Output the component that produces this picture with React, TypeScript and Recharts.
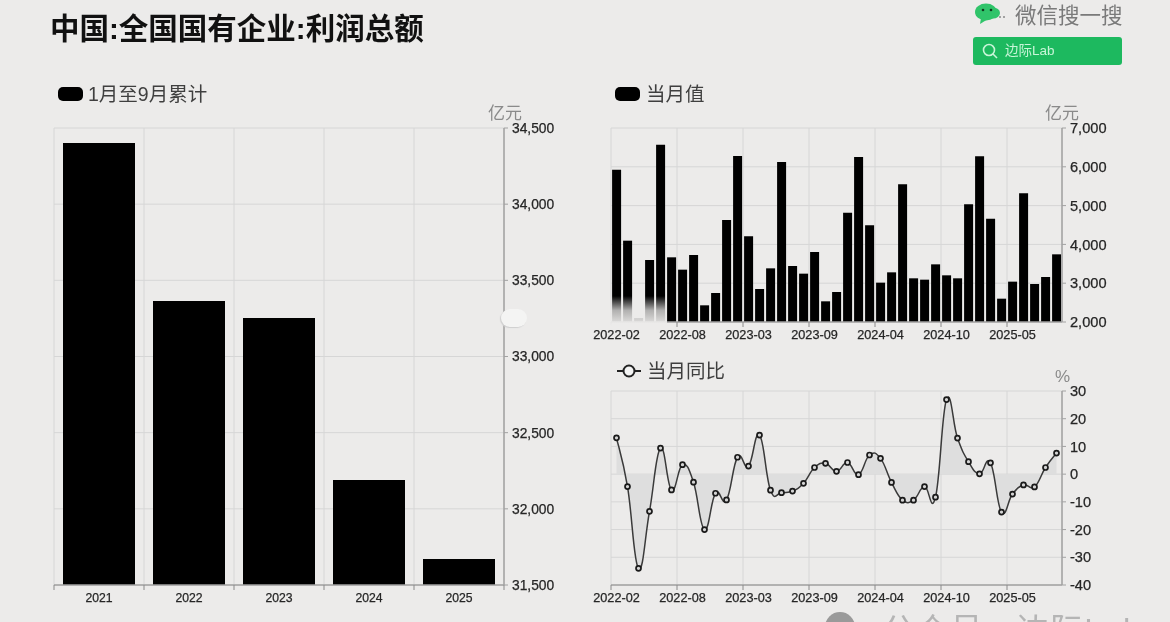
import React from 'react';
import { ComposedChart, Bar, Line, Area, XAxis, YAxis, CartesianGrid } from 'recharts';

const yearCategories = ['2021', '2022', '2023', '2024', '2025'];
const cumulativeValues = [34402, 33364, 33253, 32189, 31671];
const cumulativeTicks = [31500, 32000, 32500, 33000, 33500, 34000, 34500];

const monthCategories = [
  '2022-02', '2022-03', '2022-04', '2022-05', '2022-06', '2022-07', '2022-08', '2022-09', '2022-10', '2022-11', '2022-12',
  '2023-02', '2023-03', '2023-04', '2023-05', '2023-06', '2023-07', '2023-08', '2023-09', '2023-10', '2023-11', '2023-12',
  '2024-02', '2024-03', '2024-04', '2024-05', '2024-06', '2024-07', '2024-08', '2024-09', '2024-10', '2024-11', '2024-12',
  '2025-02', '2025-03', '2025-04', '2025-05', '2025-06', '2025-07', '2025-08', '2025-09',
];
const monthTickLabels = ['2022-02', '2022-08', '2023-03', '2023-09', '2024-04', '2024-10', '2025-05'];
const monthlyValues = [
  5926, 4096, 2100, 3598, 6570, 3667, 3349, 3727, 2430, 2747, 4629,
  6278, 4208, 2851, 3383, 6124, 3443, 3246, 3804, 2533, 2773, 4818,
  6253, 4491, 3014, 3280, 5548, 3126, 3091, 3486, 3203, 3126, 5033,
  6270, 4663, 2601, 3040, 5316, 2979, 3160, 3744,
];
const monthlyTicks = [2000, 3000, 4000, 5000, 6000, 7000];
const yoyValues = [
  13.1, -4.5, -34, -13.4, 9.4, -5.7, 3.4, -2.9, -20, -6.9, -9.3,
  6.1, 2.9, 14.1, -5.8, -6.7, -6.1, -3.3, 2.4, 3.9, 1.0, 4.2,
  -0.2, 6.9, 5.7, -3, -9.4, -9.4, -4.5, -8.3, 26.9, 13, 4.5,
  0.1, 4.1, -13.7, -7.2, -3.9, -4.6, 2.4, 7.6,
];
const yoyTicks = [-40, -30, -20, -10, 0, 10, 20, 30];

const cumulativeRows = yearCategories.map((c, i) => ({ c, v: cumulativeValues[i] }));
const monthlyRows = monthCategories.map((c, i) => ({ c, v: monthlyValues[i] }));
const yoyRows = monthCategories.map((c, i) => ({ c, v: yoyValues[i] }));

const FONT = '"Liberation Sans", "Noto Sans CJK SC", sans-serif';
const BG = '#ecebea';
const GRID = '#d6d6d6';
const AXIS = '#a2a2a2';
const TICK_TEXT = '#262626';
const TANGENT = 4.6;

const fmt = (v: number) => v.toLocaleString('en-US');

// Smooth curve through the points, drawn with the library's Curve through its factory hook.
function smoothCurve(context: any) {
  let pts: [number, number][] = [];
  let line = NaN;
  return {
    areaStart() { line = 0; },
    areaEnd() { line = NaN; },
    lineStart() { pts = []; },
    point(x: number, y: number) { pts.push([+x, +y]); },
    lineEnd() {
      pts.forEach((p, i) => {
        if (i === 0) {
          if (line) context.lineTo(p[0], p[1]);
          else context.moveTo(p[0], p[1]);
          return;
        }
        const p0 = pts[Math.max(i - 2, 0)];
        const p1 = pts[i - 1];
        const p3 = pts[Math.min(i + 1, pts.length - 1)];
        context.bezierCurveTo(
          p1[0] + (p[0] - p0[0]) / TANGENT, p1[1] + (p[1] - p0[1]) / TANGENT,
          p[0] - (p3[0] - p1[0]) / TANGENT, p[1] - (p3[1] - p1[1]) / TANGENT,
          p[0], p[1],
        );
      });
      if (line === 1) context.closePath();
      line = 1 - line;
    },
  };
}

// Labels sit mid-band, tick marks on the band edges.
const edgeTick = (bw: number, fontSize: number, lastIdx: number, count: number) => (p: any) => {
  const { x, y, payload } = p;
  const catIndex = payload.index ?? p.index;
  const endX = x + bw / 2 + (count - 1 - lastIdx) * bw;
  return (
    <g>
      <line x1={x - bw / 2} x2={x - bw / 2} y1={y - 8} y2={y - 3} stroke="#8a8a8a" />
      {catIndex === lastIdx && <line x1={endX} x2={endX} y1={y - 8} y2={y - 3} stroke="#8a8a8a" />}
      <text x={x} y={y + 9} textAnchor="middle" fontSize={fontSize} fill={TICK_TEXT} stroke={TICK_TEXT} strokeWidth={0.25} fontFamily={FONT}>
        {payload.value}
      </text>
    </g>
  );
};

const verticals = (count: number, idx: number[]) => ({ offset }: any) => [
  ...idx.map((i) => offset.left + (i * offset.width) / count),
  offset.left + offset.width,
];
const monthEdges = monthTickLabels.map((l) => monthCategories.indexOf(l));
const lastMonthTick = monthEdges[monthEdges.length - 1];

const abs = (left: number, top: number): React.CSSProperties => ({ position: 'absolute', left, top });

const LegendText = ({ left, top, text }: { left: number; top: number; text: string }) => (
  <div style={{ ...abs(left, top), fontSize: 19.5, lineHeight: '24px', color: '#3f3f3f', whiteSpace: 'nowrap' }}>{text}</div>
);
const Swatch = ({ left, top }: { left: number; top: number }) => (
  <div style={{ ...abs(left, top), width: 25, height: 14, borderRadius: 5, background: '#000' }} />
);
const Unit = ({ left, top, text }: { left: number; top: number; text: string }) => (
  <div style={{ ...abs(left, top), fontSize: 17, lineHeight: '20px', color: '#8a8a8a', whiteSpace: 'nowrap' }}>{text}</div>
);

export default function App() {
  return (
    <div
      style={{
        position: 'absolute', left: 0, top: 0, width: 1170, height: 622, overflow: 'hidden',
        background: BG, fontFamily: FONT, filter: 'blur(0.45px)',
      }}
    >
      <div style={{ ...abs(50, 11), fontSize: 29.5, lineHeight: '36px', fontWeight: 700, color: '#111', whiteSpace: 'nowrap' }}>
        中国:全国国有企业:利润总额
      </div>

      {/* brand block */}
      <svg style={abs(974, 2)} width={32} height={24}>
        <ellipse cx={12} cy={10} rx={11} ry={8.5} fill="#30c46a" />
        <ellipse cx={19} cy={11} rx={7} ry={5.5} fill="#30c46a" />
        <path d="M7 16 L6 22 L14 17 Z" fill="#30c46a" />
        <circle cx={9} cy={8} r={1.3} fill="#10381f" />
        <circle cx={17} cy={8} r={1.3} fill="#10381f" />
        <circle cx={26} cy={15} r={1} fill="#888" />
        <circle cx={30} cy={15} r={1} fill="#888" />
      </svg>
      <div style={{ ...abs(1015, 3), fontSize: 21.5, lineHeight: '26px', color: '#7a7a7a', whiteSpace: 'nowrap' }}>微信搜一搜</div>
      <div style={{ ...abs(973, 37), width: 149, height: 28, borderRadius: 3, background: '#1db95f' }} />
      <svg style={abs(981, 42)} width={18} height={18}>
        <circle cx={8} cy={8} r={5.5} fill="none" stroke="#c8f5d8" strokeWidth={1.6} />
        <line x1={12} y1={12} x2={16} y2={16} stroke="#c8f5d8" strokeWidth={1.6} />
      </svg>
      <div style={{ ...abs(1005, 42), fontSize: 13.5, lineHeight: '18px', color: '#c8f5d8', whiteSpace: 'nowrap' }}>边际Lab</div>

      {/* legends and units */}
      <Swatch left={58} top={87} />
      <LegendText left={88} top={82} text="1月至9月累计" />
      <Swatch left={615} top={87} />
      <LegendText left={646} top={82} text="当月值" />
      <svg style={abs(616, 362)} width={26} height={18}>
        <line x1={1} x2={25} y1={9} y2={9} stroke="#222" strokeWidth={2} />
        <circle cx={13} cy={9} r={5.5} fill="#f4f4f4" stroke="#222" strokeWidth={2} />
      </svg>
      <LegendText left={647} top={359} text="当月同比" />
      <Unit left={488} top={104} text="亿元" />
      <Unit left={1045} top={104} text="亿元" />
      <Unit left={1055} top={367} text="%" />

      {/* left: cumulative */}
      <div style={abs(0, 100)}>
        <ComposedChart width={570} height={522} data={cumulativeRows} margin={{ top: 28, right: 6, bottom: 7, left: 54 }} barCategoryGap="10%">
          <CartesianGrid stroke={GRID} verticalCoordinatesGenerator={verticals(5, [0, 1, 2, 3, 4])} />
          <XAxis
            dataKey="c" height={30} axisLine={{ stroke: AXIS, strokeWidth: 1.5 }} tickLine={false} interval={0}
            tick={edgeTick(90, 12.2, 4, 5)}
          />
          <YAxis
            orientation="right" width={60} domain={[31500, 34500]} ticks={cumulativeTicks} tickFormatter={fmt}
            axisLine={{ stroke: AXIS, strokeWidth: 1.5 }} tickLine={{ stroke: AXIS }} tickSize={4} tickMargin={4}
            tick={{ fontSize: 13.8, fill: TICK_TEXT, stroke: TICK_TEXT, strokeWidth: 0.25, fontFamily: FONT }} allowDataOverflow
          />
          <Bar dataKey="v" fill="#000" isAnimationActive={false} />
        </ComposedChart>
      </div>

      {/* top right: monthly */}
      <div style={abs(580, 110)}>
        <ComposedChart width={552} height={240} data={monthlyRows} margin={{ top: 18, right: 0, bottom: 0, left: 31 }} barCategoryGap="10%">
          <CartesianGrid stroke={GRID} verticalCoordinatesGenerator={verticals(41, monthEdges)} />
          <XAxis
            dataKey="c" height={28} axisLine={{ stroke: AXIS, strokeWidth: 1.5 }} tickLine={false} ticks={monthTickLabels} interval={0}
            tick={edgeTick(11, 12.7, lastMonthTick, 41)}
          />
          <YAxis
            orientation="right" width={70} domain={[2000, 7000]} ticks={monthlyTicks} tickFormatter={fmt}
            axisLine={{ stroke: AXIS, strokeWidth: 1.5 }} tickLine={{ stroke: AXIS }} tickSize={4} tickMargin={4}
            tick={{ fontSize: 14.6, fill: TICK_TEXT, stroke: TICK_TEXT, strokeWidth: 0.25, fontFamily: FONT }}
          />
          <Bar dataKey="v" fill="#000" isAnimationActive={false} />
        </ComposedChart>
      </div>

      {/* bottom right: year on year */}
      <div style={abs(580, 370)}>
        <ComposedChart width={552} height={243} data={yoyRows} margin={{ top: 21, right: 0, bottom: 0, left: 31 }}>
          <CartesianGrid stroke={GRID} verticalCoordinatesGenerator={verticals(41, monthEdges)} />
          <XAxis
            dataKey="c" scale="band" height={28} axisLine={{ stroke: AXIS, strokeWidth: 1.5 }} tickLine={false} ticks={monthTickLabels} interval={0}
            tick={edgeTick(11, 12.7, lastMonthTick, 41)}
          />
          <YAxis
            orientation="right" width={70} domain={[-40, 30]} ticks={yoyTicks}
            axisLine={{ stroke: AXIS, strokeWidth: 1.5 }} tickLine={{ stroke: AXIS }} tickSize={4} tickMargin={4}
            tick={{ fontSize: 14.6, fill: TICK_TEXT, stroke: TICK_TEXT, strokeWidth: 0.25, fontFamily: FONT }}
          />
          <Area dataKey="v" type={smoothCurve as any} baseValue={0} stroke="none" fill="#dedede" fillOpacity={1} isAnimationActive={false} />
          <Line
            dataKey="v" type={smoothCurve as any} stroke="#3a3a3a" strokeWidth={1.5}
            dot={{ r: 2.5, fill: '#d4d4d4', stroke: '#1a1a1a', strokeWidth: 1.7 }} isAnimationActive={false}
          />
        </ComposedChart>
      </div>

      {/* smudged patch over the picture */}
      <div
        style={{
          ...abs(505, 296), width: 162, height: 32,
          background: `linear-gradient(to bottom, rgba(236,235,234,0) 0%, rgba(236,235,234,0.75) 45%, ${BG} 95%)`,
        }}
      />
      <div style={{ ...abs(501, 309), width: 26, height: 18, borderRadius: 9, background: '#f4f4f3', boxShadow: '-1px 1px 1px #cfcfcf' }} />

      {/* cropped footer watermark */}
      <svg style={abs(824, 610)} width={34} height={30}>
        <circle cx={16} cy={17} r={15} fill="#9a9a9a" />
      </svg>
      <div style={{ ...abs(882, 611), fontSize: 33, lineHeight: '40px', color: '#b5b5b5', whiteSpace: 'nowrap', letterSpacing: 1 }}>
        公众号 · 边际Lab
      </div>
    </div>
  );
}
